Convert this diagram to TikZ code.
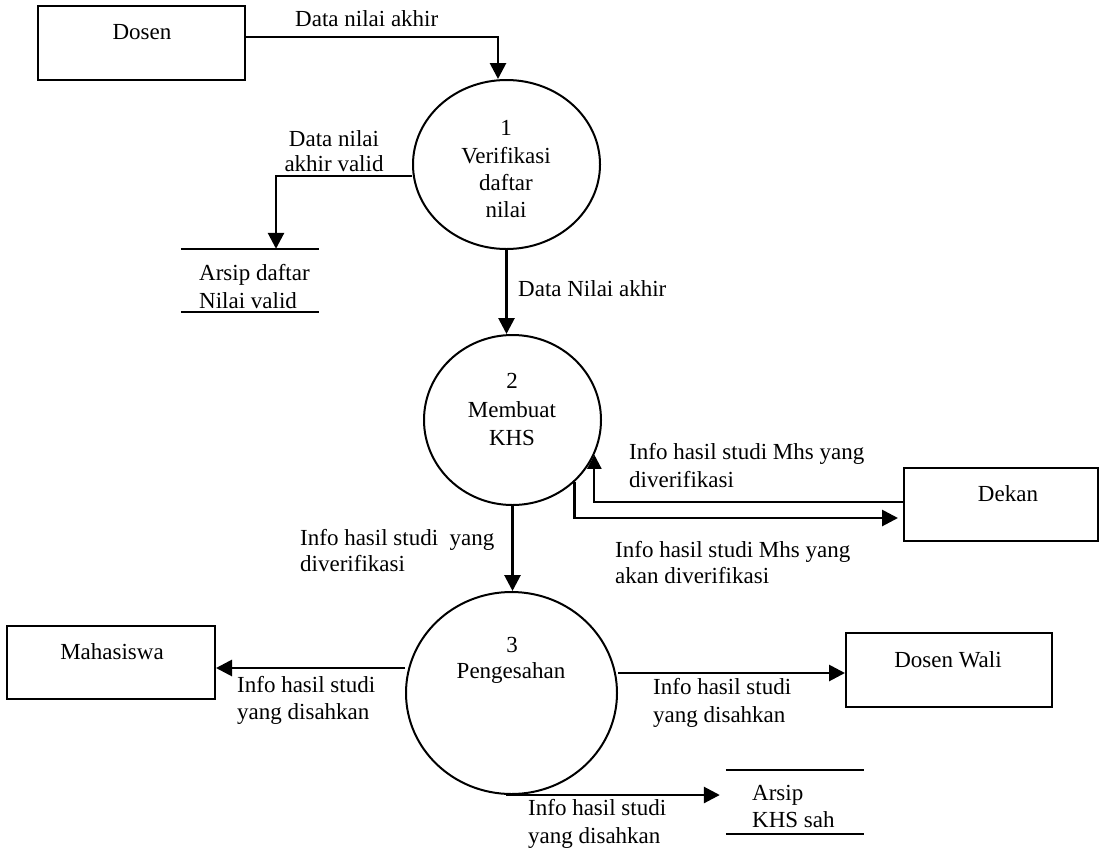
\documentclass[tikz,border=0pt]{standalone}
\usepackage{fontspec}
\setmainfont{Liberation Serif}
\usetikzlibrary{shapes.geometric,arrows.meta}
\begin{document}
\begin{tikzpicture}[x=1pt,y=-1pt,
  box/.style={draw, line width=2pt, rectangle, inner sep=0pt},
  proc/.style={draw, line width=2pt, ellipse, inner sep=0pt},
  store/.style={inner sep=0pt},
  txt/.style={inner sep=0pt, font=\fontsize{23}{28}\selectfont},
  arr/.style={line width=2.8pt, -{Triangle[length=16pt,width=16pt]}},
  thinarr/.style={line width=2.2pt, -{Triangle[length=14pt,width=14pt]}},
  storeline/.style={line width=2pt}
]
\useasboundingbox (0,0) rectangle (1100,847);

% external entities
\node[box, minimum width=207pt, minimum height=74pt] (dosen) at (141.5,43) {};
\node[box, minimum width=194pt, minimum height=73pt] (dekan) at (1001,504.5) {};
\node[box, minimum width=208pt, minimum height=73pt] (maha) at (111,662.5) {};
\node[box, minimum width=206pt, minimum height=74pt] (dw) at (949,670) {};

% processes
\node[proc, minimum width=187pt, minimum height=169pt] (p1) at (506.5,164.5) {};
\node[proc, minimum width=177pt, minimum height=170pt] (p2) at (512.5,420) {};
\node[proc, minimum width=211pt, minimum height=202pt] (p3) at (511.5,693) {};

% data stores
\node[store, minimum width=138pt, minimum height=63pt] (s1) at (250,280.5) {};
\draw[storeline] (s1.north west) -- (s1.north east);
\draw[storeline] (s1.south west) -- (s1.south east);
\node[store, minimum width=138pt, minimum height=64pt] (s2) at (795,802) {};
\draw[storeline] (s2.north west) -- (s2.north east);
\draw[storeline] (s2.south west) -- (s2.south east);

% texts
\node[txt, anchor=base] (tdosen) at (142,39) {Dosen};
\node[txt, anchor=base] (tdekan) at (1008,501) {Dekan};
\node[txt, anchor=base] (tmaha) at (112,659) {Mahasiswa};
\node[txt, anchor=base] (tdw) at (948,667) {Dosen Wali};

\node[txt, anchor=base] (tp1a) at (506,135) {1};
\node[txt, anchor=base] (tp1b) at (506,163) {Verifikasi};
\node[txt, anchor=base] (tp1c) at (506,190) {daftar};
\node[txt, anchor=base] (tp1d) at (506,217) {nilai};

\node[txt, anchor=base] (tp2a) at (512,388) {2};
\node[txt, anchor=base] (tp2b) at (512,417) {Membuat};
\node[txt, anchor=base] (tp2c) at (512,445) {KHS};

\node[txt, anchor=base] (tp3a) at (512,652) {3};
\node[txt, anchor=base] (tp3b) at (511,678) {Pengesahan};

\node[txt, anchor=base west] (ts1a) at (199,280) {Arsip daftar};
\node[txt, anchor=base west] (ts1b) at (199,308) {Nilai valid};
\node[txt, anchor=base west] (ts2a) at (752,800) {Arsip};
\node[txt, anchor=base west] (ts2b) at (752,827) {KHS sah};

% flow labels
\node[txt, anchor=base west] (l1) at (295,26) {Data nilai akhir};
\node[txt, anchor=base] (l2a) at (334,146) {Data nilai};
\node[txt, anchor=base] (l2b) at (334,171) {akhir valid};
\node[txt, anchor=base west] (l3) at (518,296) {Data Nilai akhir};
\node[txt, anchor=base west] (l4a) at (629,459) {Info hasil studi Mhs yang};
\node[txt, anchor=base west] (l4b) at (629,487) {diverifikasi};
\node[txt, anchor=base west] (l5a) at (615,557) {Info hasil studi Mhs yang};
\node[txt, anchor=base west] (l5b) at (615,583) {akan diverifikasi};
\node[txt, anchor=base west] (l6a) at (300,545) {Info hasil studi\ \ yang};
\node[txt, anchor=base west] (l6b) at (300,571) {diverifikasi};
\node[txt, anchor=base west] (l7a) at (237,692) {Info hasil studi};
\node[txt, anchor=base west] (l7b) at (237,719) {yang disahkan};
\node[txt, anchor=base west] (l8a) at (653,694) {Info hasil studi};
\node[txt, anchor=base west] (l8b) at (653,722) {yang disahkan};
\node[txt, anchor=base west] (l9a) at (528,815) {Info hasil studi};
\node[txt, anchor=base west] (l9b) at (528,843) {yang disahkan};

% flows
\draw[arr] ([yshift=6pt]dosen.east) -| ([xshift=-8.5pt]p1.north);
\draw[arr] ([yshift=-11.5pt]p1.west) -| ([xshift=26pt]s1.north);
\draw[arr] (p1.south) -- (p1.south |- p2.north);
\draw[thinarr] ([yshift=2.5pt]dekan.west) -| (p2.-23.7);
\draw[arr, shorten >=5pt] (p2.-45.7) |- ([yshift=-13.5pt]dekan.west);
\draw[arr] (p2.south) -- (p2.south |- p3.north);
\draw[arr] ([yshift=25pt]p3.west) -- ([yshift=25pt]p3.west -| maha.east);
\draw[arr] ([yshift=20pt]p3.east) -- ([yshift=20pt]p3.east -| dw.west);
\draw[arr] ([xshift=-6pt]p3.south) -- ([xshift=-6pt]p3.south -| s2.west);
\end{tikzpicture}
\end{document}
